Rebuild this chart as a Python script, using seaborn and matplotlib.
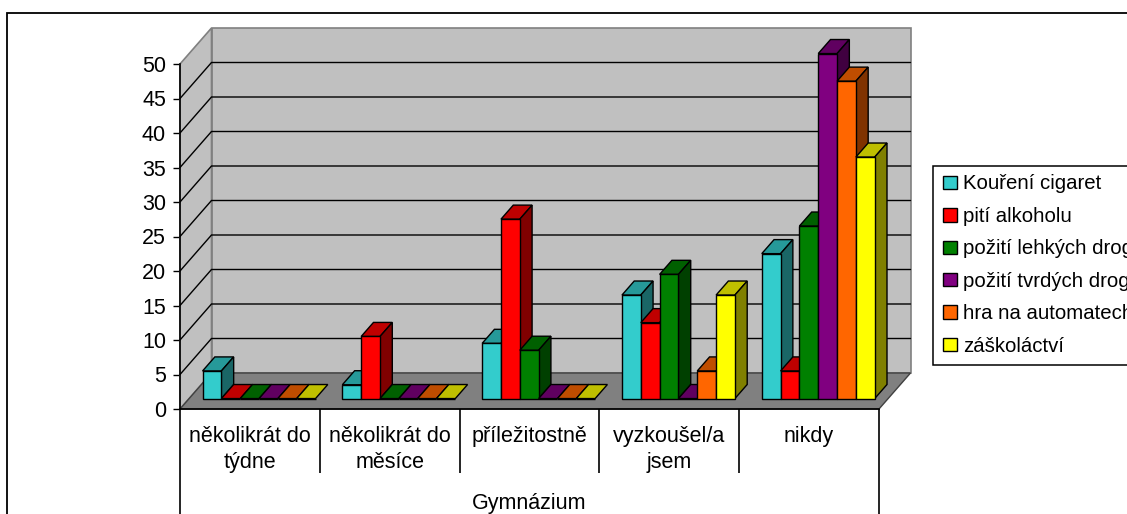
import matplotlib
matplotlib.use("Agg")
import matplotlib.pyplot as plt
from matplotlib.patches import Polygon, Rectangle
from matplotlib.colors import to_rgb
import numpy as np
import pandas as pd
import seaborn as sns

categories = ["několikrát do\ntýdne", "několikrát do\nměsíce", "příležitostně", "vyzkoušel/a\njsem", "nikdy"]
group_label = "Gymnázium"
series_names = ["Kouření cigaret", "pití alkoholu", "požití lehkých drog",
                "požití tvrdých drog", "hra na automatech", "záškoláctví"]
koureni = [4, 2, 8, 15, 21]
alkohol = [0, 9, 26, 11, 4]
lehke = [0, 0, 7, 18, 25]
tvrde = [0, 0, 0, 0, 50]
automaty = [0, 0, 0, 4, 46]
zaskolactvi = [0, 0, 0, 15, 35]
colors = ["#33CCCC", "#FF0000", "#008000", "#800080", "#FF6600", "#FFFF00"]
y_ticks = [0, 5, 10, 15, 20, 25, 30, 35, 40, 45, 50]

W, H = 1127, 514
sns.set_theme(style="white")
plt.rcParams["font.family"] = ["Liberation Sans", "DejaVu Sans"]
FS = 15.5
LFS = 14.7

values = [koureni, alkohol, lehke, tvrde, automaty, zaskolactvi]
df = pd.DataFrame({
    "cat": [c for _ in series_names for c in categories],
    "series": [s for s in series_names for _ in categories],
    "val": [v for col in values for v in col],
})

fig = plt.figure(figsize=(W / 100, H / 100), dpi=100, facecolor="white")
L, R, T, B = 180, 879, 64, 409
ax = fig.add_axes([L / W, 1 - B / H, (R - L) / W, (B - T) / H])
ax.patch.set_alpha(0)

sns.barplot(data=df, x="cat", y="val", hue="series", order=categories, hue_order=series_names,
            palette=colors, saturation=1, width=0.808, gap=0, edgecolor="black", linewidth=1,
            errorbar=None, ax=ax, legend=True)
ax.set_xlim(-0.5, len(categories) - 0.5)
ax.set_ylim(0, y_ticks[-1])

# oblique projection: depth z in 0..1 of the floor
px_x = (R - L) / len(categories)
px_y = (B - T) / y_ticks[-1]
DX = 31.5 / px_x
DY = 36 / px_y
Z0, Z1 = 0.29, 0.68


def proj(x, y, z):
    return (x + z * DX, y + z * DY)


x0, x1 = ax.get_xlim()
y_top = y_ticks[-1]
GRAY = "#808080"
WALL = "#C0C0C0"
ax.add_patch(Polygon([proj(x0, 0, 1), proj(x1, 0, 1), proj(x1, y_top, 1), proj(x0, y_top, 1)], closed=True,
                     fc=WALL, ec=GRAY, lw=1.2, clip_on=False, zorder=1))
ax.add_patch(Polygon([proj(x0, 0, 0), proj(x0, 0, 1), proj(x0, y_top, 1), proj(x0, y_top, 0)], closed=True,
                     fc=WALL, ec=GRAY, lw=1.2, clip_on=False, zorder=1))
for t in y_ticks[1:-1]:
    pts = np.array([proj(x0, t, 0), proj(x0, t, 1), proj(x1, t, 1)])
    ax.plot(pts[:, 0], pts[:, 1], color="black", lw=1, clip_on=False, zorder=1.5, solid_joinstyle="miter")
ax.add_patch(Polygon([proj(x0, 0, 0), proj(x1, 0, 0), proj(x1, 0, 1), proj(x0, 0, 1)], closed=True,
                     fc=GRAY, ec="#404040", lw=1, clip_on=False, zorder=2))

bars = sorted([p for c in ax.containers for p in c], key=lambda p: p.get_x())
for i, p in enumerate(bars):
    bx, bw, bh = p.get_x(), p.get_width(), p.get_height()
    rgb = np.array(to_rgb(p.get_facecolor()[:3]))
    z = 3 + i
    xa = bx
    xb = bx + bw
    ax.add_patch(Polygon([proj(xa, bh, Z0), proj(xb, bh, Z0), proj(xb, bh, Z1), proj(xa, bh, Z1)], closed=True,
                         fc=rgb * 0.75, ec="black", lw=1, clip_on=False, zorder=z))
    if bh > 0:
        ax.add_patch(Polygon([proj(xb, 0, Z0), proj(xb, 0, Z1), proj(xb, bh, Z1), proj(xb, bh, Z0)], closed=True,
                             fc=rgb * 0.5, ec="black", lw=1, clip_on=False, zorder=z))
    fx, fy = proj(bx, 0, Z0)
    p.set_x(fx)
    p.set_y(fy)
    p.set_clip_on(False)
    p.set_zorder(z + 0.5)

sns.despine(ax=ax, left=False, bottom=False, top=True, right=True)
for s in ("left", "bottom"):
    ax.spines[s].set_color("black")
    ax.spines[s].set_linewidth(1.2)
    ax.spines[s].set_zorder(2.5)

ax.set_yticks(y_ticks)
ax.set_yticklabels([str(t) for t in y_ticks], fontsize=FS, color="black")
ax.tick_params(axis="y", left=True, length=5, width=1, color="black", pad=5)
ax.set_xticks(range(len(categories)))
ax.set_xticklabels(categories, fontsize=FS, color="black", linespacing=1.32)
ax.tick_params(axis="x", bottom=False, pad=6)
ax.set_xlabel(group_label, fontsize=FS, color="black", va="center")
ax.xaxis.set_label_coords(0.5, (B - 503) / (B - T))
ax.set_ylabel("")

# multi-level category axis rules below the floor
inner_low = -(473 - B) / px_y
outer_low = -(H + 2 - B) / px_y
bounds = np.arange(len(categories) + 1) - 0.5
ax.vlines(bounds[1:-1], inner_low, 0, color="black", lw=1.2, clip_on=False)
ax.vlines(bounds[[0, -1]], outer_low, 0, color="black", lw=1.2, clip_on=False)

# chart-area border (runs off the picture on the right and at the bottom)
fig.add_artist(Rectangle((7 / W, -0.1), 1.1, 1.1 - 13 / H, transform=fig.transFigure,
                         fc="none", ec="black", lw=1.3, zorder=-1))

handles, labels = ax.get_legend_handles_labels()
leg = ax.legend(handles, labels, loc="upper left", bbox_to_anchor=(933 / W, 1 - 165.5 / H),
                bbox_transform=fig.transFigure, borderaxespad=0, fontsize=LFS, frameon=True, fancybox=False,
                framealpha=1, edgecolor="black", labelcolor="black", handlelength=0.74, handleheight=0.64,
                handletextpad=0.29, labelspacing=0.66, borderpad=0.44, title=None)
leg.get_frame().set_linewidth(1.1)
leg.set_zorder(50)
for h in leg.legend_handles:
    h.set_x(h.get_x() + 0.8)
    h.set_width(h.get_width() - 0.8)

fig.savefig("out.png", dpi=100)
